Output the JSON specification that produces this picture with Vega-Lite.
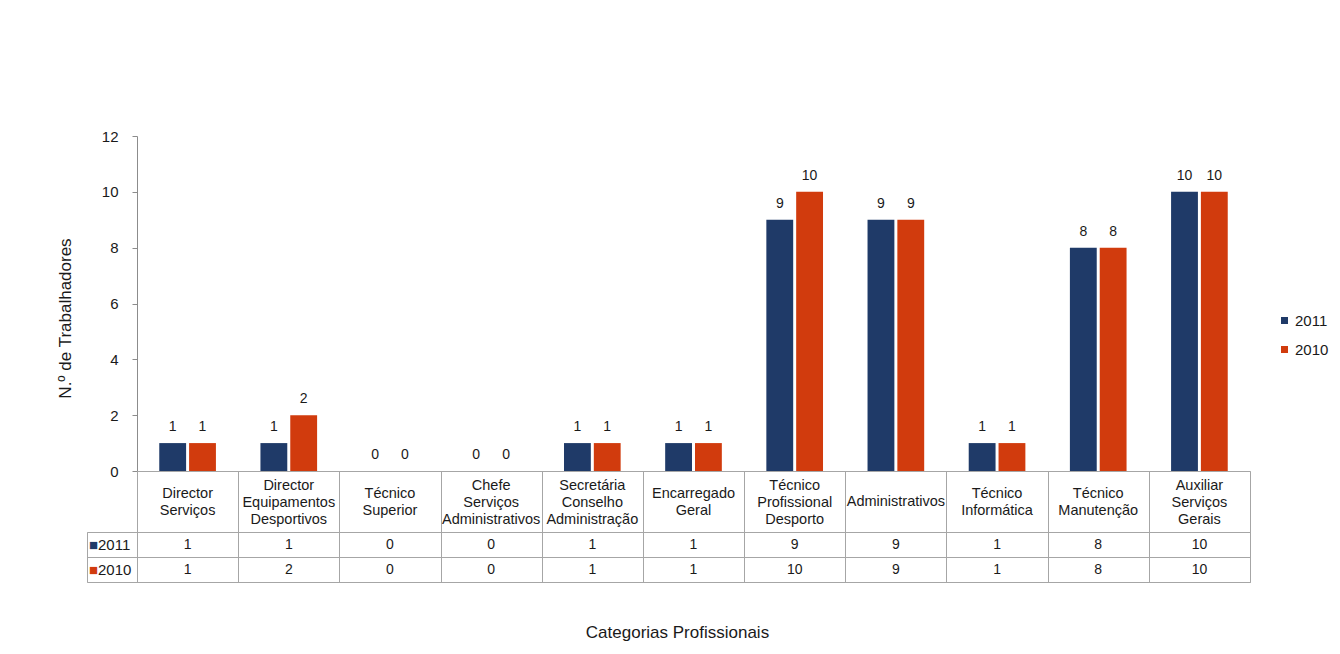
{
  "$schema": "https://vega.github.io/schema/vega-lite/v6.json",
  "autosize": {"type": "pad"},
  "padding": {"left": 56, "top": 129, "right": 5, "bottom": 5},
  "background": "white",
  "config": {
    "font": "Liberation Sans",
    "view": {"stroke": "#A6A6A6"},
    "text": {"font": "Liberation Sans", "color": "#1a1a1a"},
    "axis": {"labelFont": "Liberation Sans", "titleFont": "Liberation Sans", "titleFontWeight": "normal", "titleColor": "#1a1a1a", "labelColor": "#1a1a1a"}
  },
  "datasets": {
    "t": [
      {"cat": "Director\nServiços", "year": "2011", "n": 1},
      {"cat": "Director\nServiços", "year": "2010", "n": 1},
      {"cat": "Director\nEquipamentos\nDesportivos", "year": "2011", "n": 1},
      {"cat": "Director\nEquipamentos\nDesportivos", "year": "2010", "n": 2},
      {"cat": "Técnico\nSuperior", "year": "2011", "n": 0},
      {"cat": "Técnico\nSuperior", "year": "2010", "n": 0},
      {"cat": "Chefe\nServiços\nAdministrativos", "year": "2011", "n": 0},
      {"cat": "Chefe\nServiços\nAdministrativos", "year": "2010", "n": 0},
      {"cat": "Secretária\nConselho\nAdministração", "year": "2011", "n": 1},
      {"cat": "Secretária\nConselho\nAdministração", "year": "2010", "n": 1},
      {"cat": "Encarregado\nGeral", "year": "2011", "n": 1},
      {"cat": "Encarregado\nGeral", "year": "2010", "n": 1},
      {"cat": "Técnico\nProfissional\nDesporto", "year": "2011", "n": 9},
      {"cat": "Técnico\nProfissional\nDesporto", "year": "2010", "n": 10},
      {"cat": "Administrativos", "year": "2011", "n": 9},
      {"cat": "Administrativos", "year": "2010", "n": 9},
      {"cat": "Técnico\nInformática", "year": "2011", "n": 1},
      {"cat": "Técnico\nInformática", "year": "2010", "n": 1},
      {"cat": "Técnico\nManutenção", "year": "2011", "n": 8},
      {"cat": "Técnico\nManutenção", "year": "2010", "n": 8},
      {"cat": "Auxiliar\nServiços\nGerais", "year": "2011", "n": 10},
      {"cat": "Auxiliar\nServiços\nGerais", "year": "2010", "n": 10}
    ]
  },
  "data": {"name": "t"},
  "columns": 2,
  "spacing": 0,
  "bounds": "flush",
  "resolve": {"scale": {"color": "independent"}, "legend": {"color": "independent"}},
  "concat": [
    {
      "width": 50, "height": 335,
      "view": {"stroke": null},
      "data": {"values": []},
      "mark": {"type": "point", "opacity": 0},
      "encoding": {}
    },
    {
      "width": 1113, "height": 335,
      "view": {"stroke": null},
      "encoding": {
        "x": {"field": "cat", "type": "nominal", "sort": null, "scale": {"type": "band", "paddingInner": 0.44, "paddingOuter": 0.22}, "axis": null},
        "xOffset": {"field": "year", "type": "nominal", "sort": ["2011", "2010"], "scale": {"domain": ["2011", "2010"], "paddingInner": 0.1, "paddingOuter": 0}},
        "y": {
          "field": "n", "type": "quantitative",
          "scale": {"domain": [0, 12], "nice": false},
          "axis": {
            "values": [0, 2, 4, 6, 8, 10, 12],
            "grid": false,
            "domainColor": "#8C8C8C",
            "tickColor": "#8C8C8C",
            "tickSize": 5,
            "labelPadding": 14,
            "labelFontSize": 15,
            "title": "N.º de Trabalhadores",
            "titleFontSize": 17,
            "titlePadding": 27,
            "titleY": 182
          }
        }
      },
      "layer": [
        {
          "mark": {"type": "bar"},
          "encoding": {
            "color": {
              "field": "year", "type": "nominal",
              "scale": {"domain": ["2011", "2010"], "range": ["#1F3A68", "#D13B0D"]},
              "legend": {
                "title": null, "orient": "none", "legendX": 1140, "legendY": 177,
                "symbolType": "square", "symbolSize": 49, "symbolStrokeWidth": 0,
                "labelFontSize": 15, "labelFont": "Liberation Sans", "labelColor": "#1a1a1a",
                "rowPadding": 13, "labelOffset": 3, "padding": 0
              }
            }
          }
        },
        {
          "mark": {"type": "text", "baseline": "alphabetic", "dy": -12, "fontSize": 14},
          "encoding": {"text": {"field": "n", "type": "quantitative"}}
        }
      ]
    },
    {
      "width": 50, "height": 61,
      "view": {"stroke": null},
      "data": {"values": []},
      "mark": {"type": "point", "opacity": 0},
      "encoding": {}
    },
    {
      "width": 1113, "height": 61,
      "transform": [{"filter": "datum.year == '2011'"}],
      "encoding": {
        "x": {
          "field": "cat", "type": "nominal", "sort": null,
          "scale": {
            "type": "band", "paddingInner": 0, "paddingOuter": 0,
            "domain": [
              "Director\nServiços",
              "Director\nEquipamentos\nDesportivos",
              "Técnico\nSuperior",
              "Chefe\nServiços\nAdministrativos",
              "Secretária\nConselho\nAdministração",
              "Encarregado\nGeral",
              "Técnico\nProfissional\nDesporto",
              "Administrativos",
              "Técnico\nInformática",
              "Técnico\nManutenção",
              "Auxiliar\nServiços\nGerais"
            ]
          },
          "axis": {"grid": true, "tickBand": "extent", "labels": false, "ticks": false, "domain": false, "title": null, "gridColor": "#A6A6A6", "gridOpacity": 1}
        },
        "text": {"field": "cat", "type": "nominal"}
      },
      "layer": [
        {
          "transform": [{"filter": "length(split(datum.cat, '\\n')) == 1"}],
          "mark": {"type": "text", "fontSize": 14.5, "lineBreak": "\n", "lineHeight": 17, "baseline": "middle", "dy": 0}
        },
        {
          "transform": [{"filter": "length(split(datum.cat, '\\n')) == 2"}],
          "mark": {"type": "text", "fontSize": 14.5, "lineBreak": "\n", "lineHeight": 17, "baseline": "middle", "dy": -8}
        },
        {
          "transform": [{"filter": "length(split(datum.cat, '\\n')) == 3"}],
          "mark": {"type": "text", "fontSize": 14.5, "lineBreak": "\n", "lineHeight": 17, "baseline": "middle", "dy": -16}
        }
      ]
    },
    {
      "width": 50, "height": 50,
      "transform": [{"aggregate": [{"op": "count", "as": "k"}], "groupby": ["year"]}],
      "encoding": {
        "y": {
          "field": "year", "type": "nominal", "sort": ["2011", "2010"],
          "scale": {"type": "band", "paddingInner": 0, "paddingOuter": 0},
          "axis": {"grid": true, "tickBand": "extent", "labels": false, "ticks": false, "domain": false, "title": null, "gridColor": "#A6A6A6", "gridOpacity": 1}
        }
      },
      "layer": [
        {
          "mark": {"type": "text", "text": "■", "align": "right", "dx": -14, "fontSize": 15, "baseline": "middle"},
          "encoding": {
            "color": {"field": "year", "type": "nominal", "scale": {"domain": ["2011", "2010"], "range": ["#1F3A68", "#D13B0D"]}, "legend": null}
          }
        },
        {
          "mark": {"type": "text", "align": "left", "dx": -14, "fontSize": 15, "baseline": "middle"},
          "encoding": {"text": {"field": "year", "type": "nominal"}}
        }
      ]
    },
    {
      "width": 1113, "height": 50,
      "mark": {"type": "text", "fontSize": 14, "baseline": "middle"},
      "encoding": {
        "x": {
          "field": "cat", "type": "nominal", "sort": null,
          "scale": {"type": "band", "paddingInner": 0, "paddingOuter": 0},
          "axis": {"grid": true, "tickBand": "extent", "labels": false, "ticks": false, "domain": false, "gridColor": "#A6A6A6", "gridOpacity": 1,
                   "title": "Categorias Profissionais", "titleFontSize": 17, "titlePadding": 42, "titleX": 540, "titleAlign": "center"}
        },
        "y": {
          "field": "year", "type": "nominal", "sort": ["2011", "2010"],
          "scale": {"type": "band", "paddingInner": 0, "paddingOuter": 0},
          "axis": {"grid": true, "tickBand": "extent", "labels": false, "ticks": false, "domain": false, "title": null, "gridColor": "#A6A6A6", "gridOpacity": 1}
        },
        "text": {"field": "n", "type": "quantitative"}
      }
    }
  ]
}
